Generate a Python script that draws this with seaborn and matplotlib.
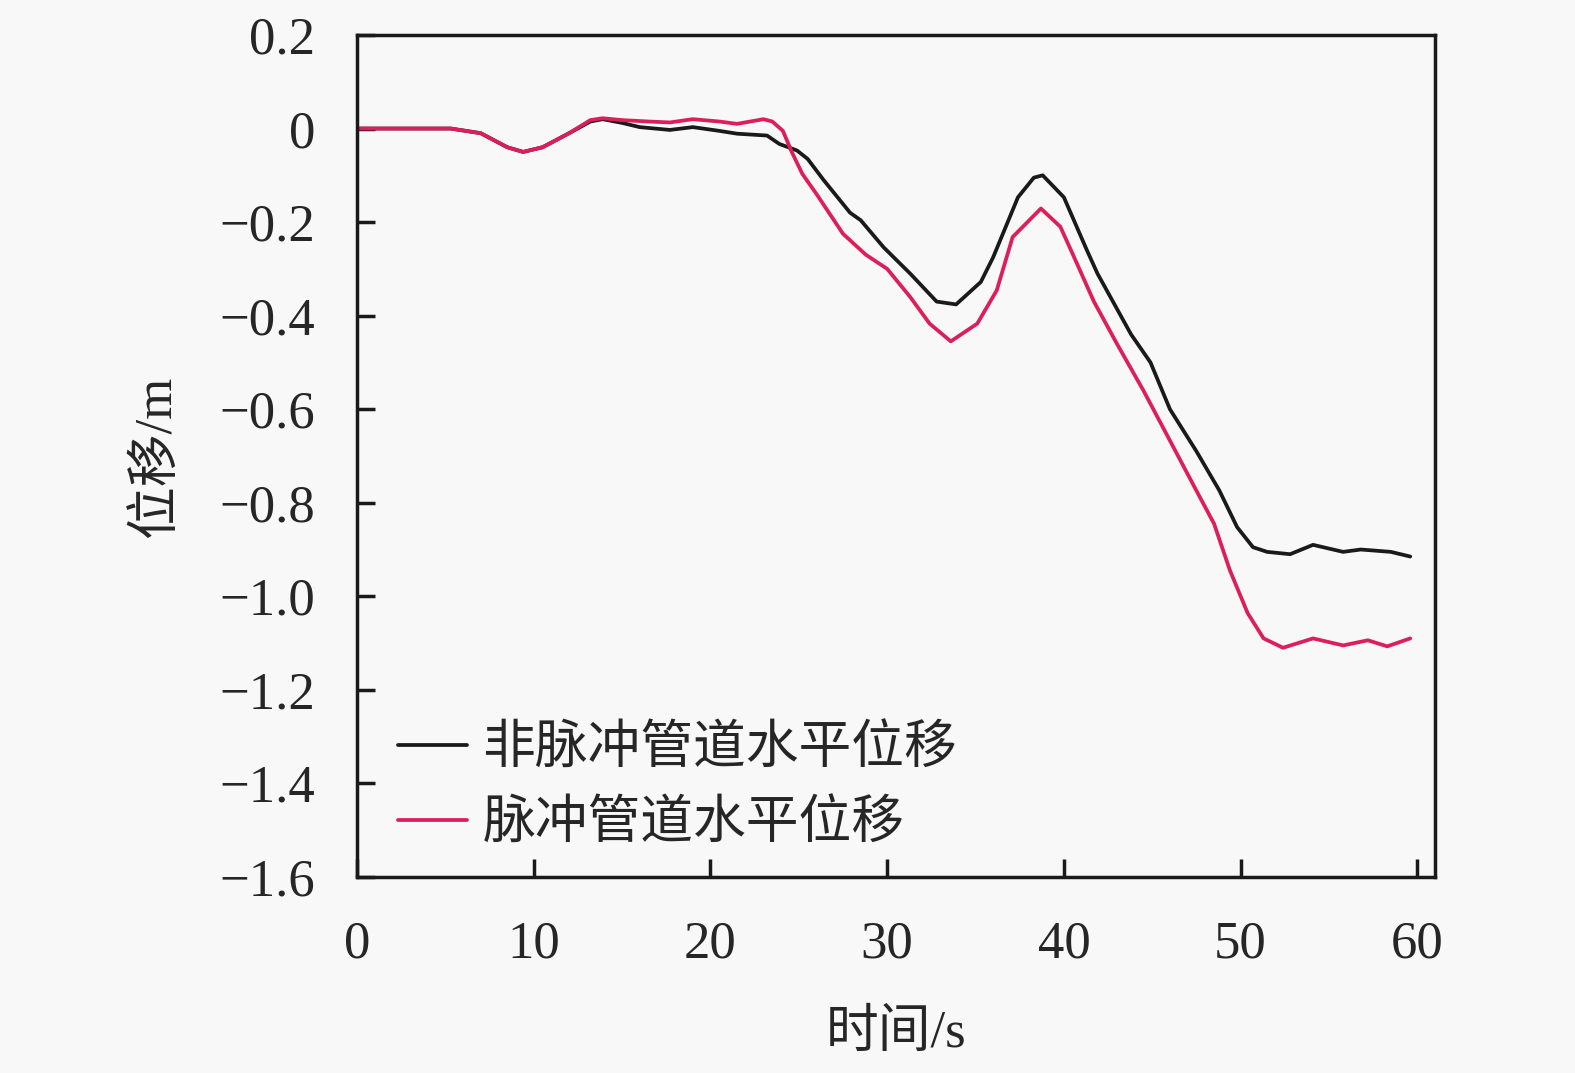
import pandas as pd
import matplotlib
matplotlib.use("Agg")
import matplotlib.pyplot as plt
import seaborn as sns

# ---- data ----
t_non = [0, 3, 5.3, 7, 8.5, 9.4, 10.5, 12, 13.2, 13.9, 15, 16, 17.7, 19, 20.5, 21.5,
         23.2, 23.9, 24.9, 25.5, 26.4, 27.9, 28.5, 29.8, 31.3, 32.8, 33.9, 35.3, 36,
         37.4, 38.3, 38.8, 40, 41.3, 41.9, 43.8, 44.9, 46, 47.5, 48.8, 49.8, 50.7,
         51.5, 52.8, 54.1, 55.8, 56.8, 58.5, 59.6]
d_non = [0, 0, 0.0, -0.01, -0.04, -0.05, -0.04, -0.01, 0.015, 0.02, 0.012, 0.003,
         -0.003, 0.003, -0.005, -0.011, -0.015, -0.033, -0.047, -0.065, -0.11, -0.18,
         -0.196, -0.254, -0.31, -0.37, -0.376, -0.328, -0.275, -0.147, -0.105, -0.1,
         -0.147, -0.26, -0.31, -0.44, -0.50, -0.60, -0.69, -0.774, -0.852, -0.895,
         -0.905, -0.91, -0.89, -0.905, -0.9, -0.905, -0.915]

t_pulse = [0, 5.3, 7, 8.5, 9.4, 10.5, 12, 13.2, 13.9, 15, 16.5, 17.7, 19, 20.5, 21.5,
           23, 23.5, 24.1, 24.6, 25.2, 26, 27.5, 28.8, 30, 31.3, 32.4, 33.6, 35.1,
           36.2, 37.1, 38.7, 39.8, 40.4, 41.7, 43, 44.5, 46, 47.3, 48.5, 49.4, 50.4,
           51.3, 52.4, 54.1, 55.8, 57.2, 58.3, 59.6]
d_pulse = [0, 0, -0.01, -0.04, -0.05, -0.04, -0.01, 0.018, 0.022, 0.018, 0.015, 0.013,
           0.02, 0.015, 0.01, 0.02, 0.015, -0.005, -0.05, -0.097, -0.14, -0.225, -0.27,
           -0.3, -0.36, -0.417, -0.455, -0.417, -0.346, -0.232, -0.171, -0.21, -0.26,
           -0.37, -0.46, -0.56, -0.667, -0.76, -0.845, -0.945, -1.036, -1.09, -1.11,
           -1.09, -1.105, -1.094, -1.107, -1.09]

labels = ["非脉冲管道水平位移", "脉冲管道水平位移"]
colors = ["#1a1a1a", "#dc1e5a"]

x_ticks = [0, 10, 20, 30, 40, 50, 60]
y_ticks = [0.2, 0, -0.2, -0.4, -0.6, -0.8, -1.0, -1.2, -1.4, -1.6]
y_tick_labels = ["0.2", "0", "\u22120.2", "\u22120.4", "\u22120.6", "\u22120.8",
                 "\u22121.0", "\u22121.2", "\u22121.4", "\u22121.6"]

df = pd.concat([
    pd.DataFrame({"t": t_non, "d": d_non, "series": labels[0]}),
    pd.DataFrame({"t": t_pulse, "d": d_pulse, "series": labels[1]}),
], ignore_index=True)

# ---- style ----
sns.set_style("ticks")
plt.rcParams["font.family"] = ["Liberation Serif", "Noto Sans CJK SC", "DejaVu Sans"]
plt.rcParams["axes.unicode_minus"] = True

bg = "#f8f8f8"
fig = plt.figure(figsize=(15.75, 10.73), dpi=100, facecolor=bg)
ax = fig.add_axes([0.2267, 0.1827, 0.9111 - 0.2267, 0.9674 - 0.1827])
ax.set_facecolor(bg)

sns.lineplot(data=df, x="t", y="d", hue="series", palette=colors, sort=False,
             linewidth=2.7, ax=ax, legend=True)

ax.set_xlim(0, 61)
ax.set_ylim(-1.6, 0.2)
ax.set_xticks(x_ticks)
ax.set_xticklabels([str(v) for v in x_ticks])
ax.set_yticks(y_ticks)
ax.set_yticklabels(y_tick_labels)

for s in ax.spines.values():
    s.set_linewidth(2.5)
    s.set_color("#1a1a1a")
ax.tick_params(direction="in", length=13, width=2.5, labelsize=38, color="#1a1a1a")
ax.tick_params(axis="y", pad=30)
ax.tick_params(axis="x", pad=31)

ax.set_xlabel("时间/s", fontsize=38, labelpad=30)
ax.set_ylabel("位移/m", fontsize=38, labelpad=28)

leg = ax.legend(loc="lower left", bbox_to_anchor=(-0.006, -0.024), frameon=False,
                fontsize=38, handlelength=1.3, handletextpad=0.3, labelspacing=0.49)
for line in leg.get_lines():
    line.set_linewidth(2.7)

fig.savefig("out.png", dpi=100, facecolor=bg)
